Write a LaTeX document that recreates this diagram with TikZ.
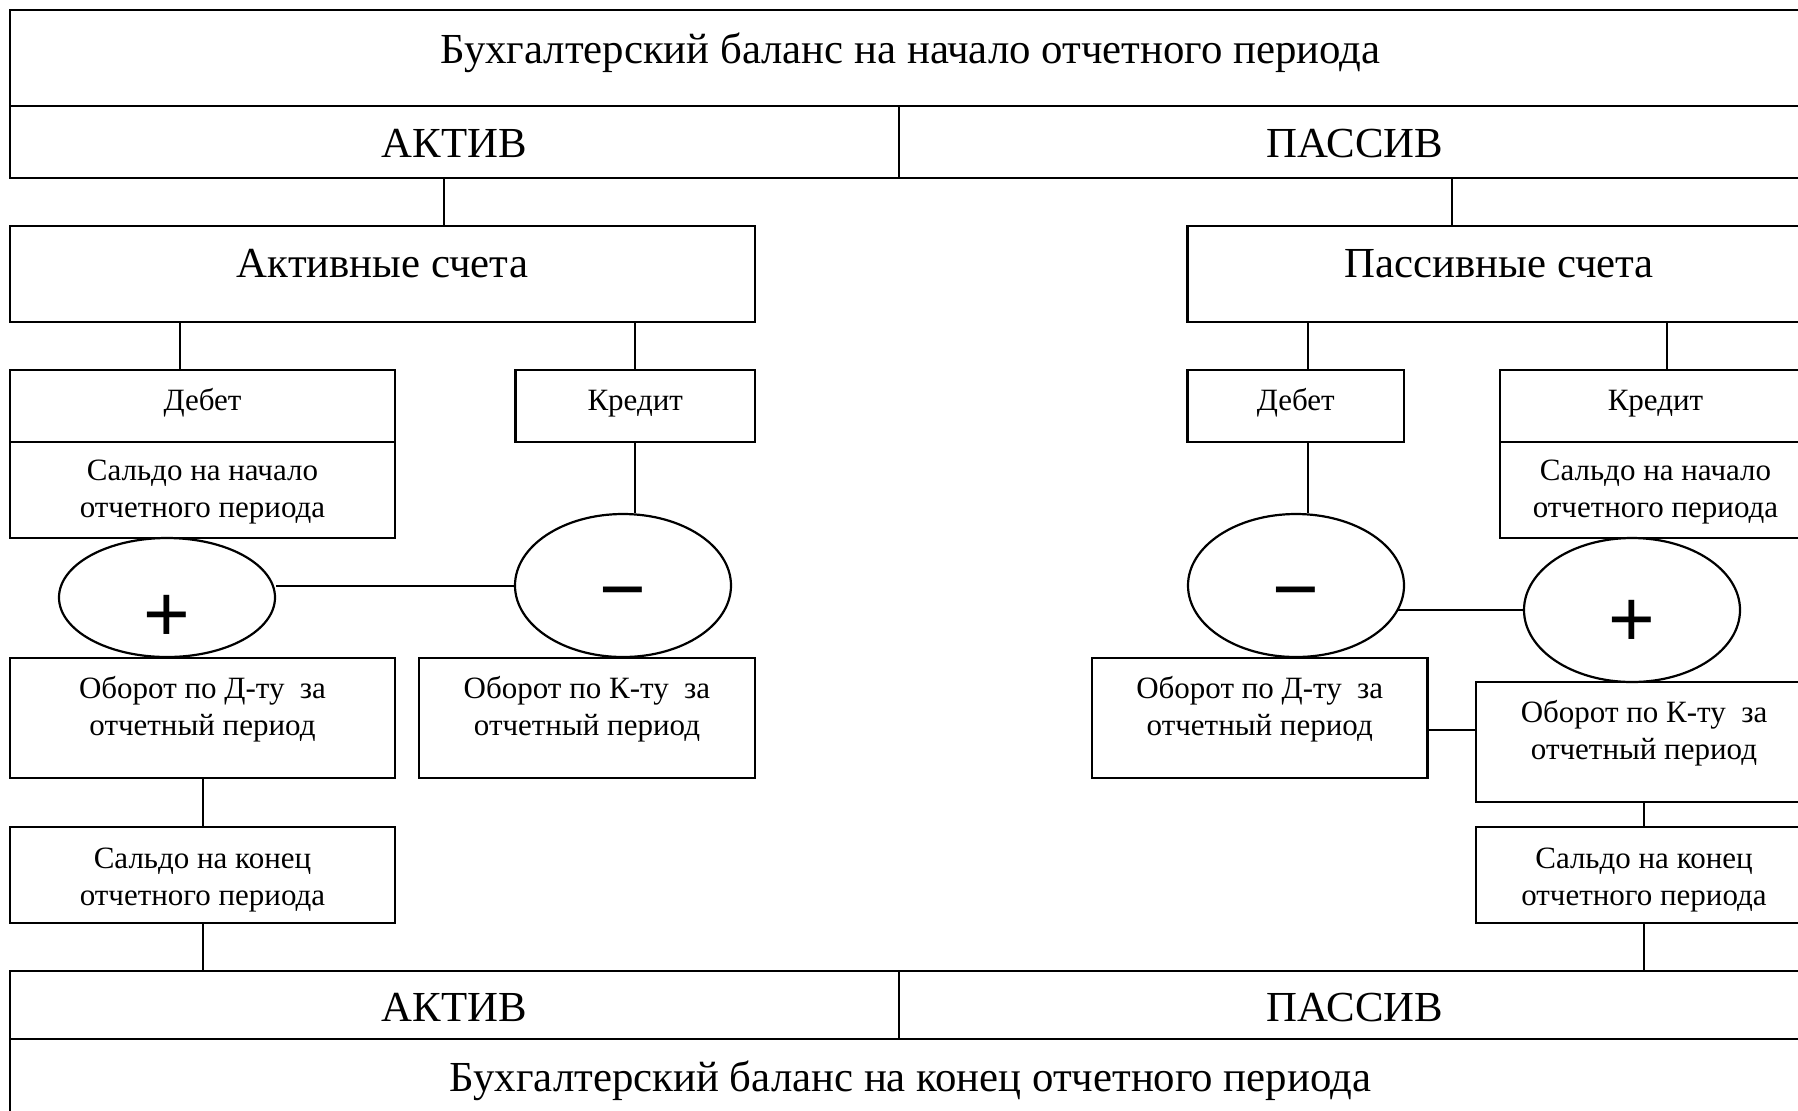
\documentclass[tikz,border=0pt]{standalone}
\usepackage{fontspec}
\setmainfont{Liberation Serif}
\newfontfamily\signfont{Liberation Sans}
\usetikzlibrary{positioning}
\usetikzlibrary{shapes.geometric}

\tikzset{
	box/.style={draw, rectangle, inner sep=0pt, line width=1.4pt},
	oval/.style={draw, ellipse, inner sep=0pt, line width=1.1pt},
	big/.style={font=\fontsize{21.4}{26}\selectfont, inner sep=0pt, anchor=base},
	small/.style={font=\fontsize{15.5}{18.5}\selectfont, align=center, inner sep=0pt, anchor=base},
	sign/.style={font=\signfont\fontsize{40}{40}\selectfont, inner sep=0pt, anchor=base},
	link/.style={line width=1pt},
}

\begin{document}
\begin{tikzpicture}[x=0.5pt, y=-0.5pt]
	\useasboundingbox (0,0) rectangle (1798,1110);
	\clip (0,0) rectangle (1798,1110);
	% balance at the start
	\node[box, minimum width=900.5pt, minimum height=48pt] (titleA) at (910.5,58) {};
	\node[big] (titleAtxt) at (910.5,63) {Бухгалтерский баланс на начало отчетного периода};
	\node[box, minimum width=444.5pt, minimum height=36pt] (aktivA) at (454.5,142) {};
	\node[box, minimum width=456pt, minimum height=36pt] (passivA) at (1355,142) {};
	\node[big] (aktivAtxt) at (454.5,157) {АКТИВ};
	\node[big] (passivAtxt) at (1355,157) {ПАССИВ};
	% account groups
	\node[box, minimum width=372.5pt, minimum height=48pt] (aktivnye) at (382.5,274) {};
	\node[box, minimum width=311.75pt, minimum height=48pt] (passivnye) at (1499.25,274) {};
	\node[big] (aktivnyeTxt) at (382.5,277) {Активные счета};
	\node[big] (passivnyeTxt) at (1499.25,277) {Пассивные счета};
	% active side
	\node[box, minimum width=192.5pt, minimum height=36pt] (debetL) at (202.5,406) {};
	\node[box, minimum width=192.5pt, minimum height=48pt] (saldoNL) at (202.5,490) {};
	\node[box, minimum width=119.75pt, minimum height=36pt] (kreditL) at (635.25,406) {};
	\node[oval, minimum width=108pt, minimum height=59.5pt] (plusL) at (167,597.5) {};
	\node[oval, minimum width=108pt, minimum height=71.5pt] (minusL) at (623,585.5) {};
	\node[box, minimum width=192.5pt, minimum height=60pt] (oborotDL) at (202.5,718) {};
	\node[box, minimum width=168pt, minimum height=60pt] (oborotKL) at (587,718) {};
	\node[box, minimum width=192.5pt, minimum height=48pt] (saldoKL) at (202.5,875) {};
	\node[small] (debetLtxt) at (202.5,410.7) {Дебет};
	\node[small] (saldoNLtxt) at (202.5,517) {Сальдо на начало\\отчетного периода};
	\node[small] (kreditLtxt) at (635.25,410.7) {Кредит};
	\node[sign] (plusLtxt) at (167,641) {+};
	\node[sign] (minusLtxt) at (623,616) {−};
	\node[small] (oborotDLtxt) at (202.5,735) {Оборот по Д-ту~ за\\отчетный период};
	\node[small] (oborotKLtxt) at (587,735) {Оборот по К-ту~ за\\отчетный период};
	\node[small] (saldoKLtxt) at (202.5,905) {Сальдо на конец\\отчетного периода};
	% passive side
	\node[box, minimum width=108.25pt, minimum height=36pt] (debetR) at (1295.75,406) {};
	\node[box, minimum width=155.5pt, minimum height=36pt] (kreditR) at (1655.5,406) {};
	\node[box, minimum width=155.5pt, minimum height=48pt] (saldoNR) at (1655.5,490) {};
	\node[oval, minimum width=108pt, minimum height=71.5pt] (minusR) at (1296,585.5) {};
	\node[oval, minimum width=108pt, minimum height=72pt] (plusR) at (1632,610) {};
	\node[box, minimum width=167.75pt, minimum height=60pt] (oborotDR) at (1259.75,718) {};
	\node[box, minimum width=168pt, minimum height=60pt] (oborotKR) at (1644,742) {};
	\node[box, minimum width=168pt, minimum height=48pt] (saldoKR) at (1644,875) {};
	\node[small] (debetRtxt) at (1295.75,410.7) {Дебет};
	\node[small] (kreditRtxt) at (1655.5,410.7) {Кредит};
	\node[small] (saldoNRtxt) at (1655.5,517) {Сальдо на начало\\отчетного периода};
	\node[sign] (minusRtxt) at (1296,616) {−};
	\node[sign] (plusRtxt) at (1632,646) {+};
	\node[small] (oborotDRtxt) at (1259.75,735) {Оборот по Д-ту~ за\\отчетный период};
	\node[small] (oborotKRtxt) at (1644,759) {Оборот по К-ту~ за\\отчетный период};
	\node[small] (saldoKRtxt) at (1644,905) {Сальдо на конец\\отчетного периода};
	% balance at the end
	\node[box, minimum width=444.5pt, minimum height=34pt] (aktivB) at (454.5,1005) {};
	\node[box, minimum width=456pt, minimum height=34pt] (passivB) at (1355,1005) {};
	\node[box, minimum width=900.5pt, minimum height=48pt] (titleB) at (910.5,1087) {};
	\node[big] (aktivBtxt) at (454.5,1021.7) {АКТИВ};
	\node[big] (passivBtxt) at (1355,1021.7) {ПАССИВ};
	\node[big] (titleBtxt) at (910.5,1091.7) {Бухгалтерский баланс на конец отчетного периода};
	% connectors
	\coordinate (cA) at (444,0);
	\coordinate (cP) at (1452,0);
	\coordinate (cDL) at (180,0);
	\coordinate (cDR) at (1308,0);
	\coordinate (cKR) at (1667,0);
	\coordinate (cO) at (0,730);
	\draw[link] (aktivA.south -| cA) -- (aktivnye.north -| cA);
	\draw[link] (passivA.south -| cP) -- (passivnye.north -| cP);
	\draw[link] (aktivnye.south -| cDL) -- (debetL.north -| cDL);
	\draw[link] (aktivnye.south -| kreditL.north) -- (kreditL.north);
	\draw[link] (kreditL.south) -- (kreditL.south |- minusL.north);
	\draw[link] (minusL.west) -- (minusL.west -| plusL.east);
	\draw[link] (oborotDL.south) -- (saldoKL.north);
	\draw[link] (saldoKL.south) -- (saldoKL.south |- aktivB.north);
	\draw[link] (passivnye.south -| cDR) -- (debetR.north -| cDR);
	\draw[link] (passivnye.south -| cKR) -- (kreditR.north -| cKR);
	\draw[link] (debetR.south -| cDR) -- (minusR.north -| cDR);
	\draw[link] (plusR.west) -- (plusR.west -| minusR.-14);
	\draw[link] (oborotDR.east |- cO) -- (oborotKR.west |- cO);
	\draw[link] (oborotKR.south) -- (saldoKR.north);
	\draw[link] (saldoKR.south) -- (saldoKR.south |- passivB.north);
\end{tikzpicture}
\end{document}
